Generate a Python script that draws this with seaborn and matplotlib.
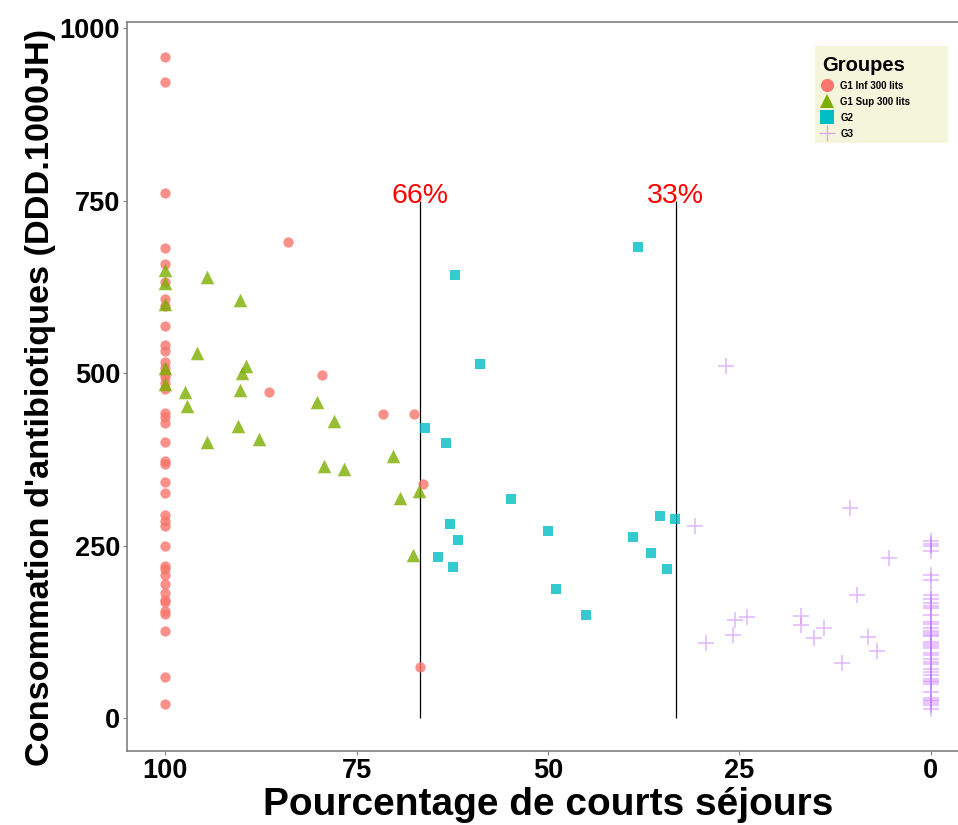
import matplotlib
matplotlib.use("Agg")
import matplotlib.pyplot as plt
import seaborn as sns
import pandas as pd
from matplotlib.lines import Line2D
from matplotlib.patches import Rectangle

# ---------------- data ----------------
g1inf_x = [100] * 41 + [84.0, 86.4, 79.5, 71.5, 67.5, 66.3, 66.7]
g1inf_y = [959, 922, 761, 681, 658, 632, 608, 597, 568, 541, 532, 517, 507, 499, 494,
           486, 477, 443, 436, 428, 401, 373, 368, 343, 327, 295, 286, 279, 250, 221,
           216, 207, 195, 182, 172, 168, 156, 151, 127, 60, 21,
           690, 473, 498, 441, 441, 340, 74]

g1sup_x = [100, 100, 100, 100, 100, 94.5, 90.3, 95.9, 89.5, 90.0, 97.4, 90.2, 97.1, 90.5,
           94.6, 80.2, 77.9, 87.8, 79.3, 76.6, 70.3, 69.4, 66.8, 67.6]
g1sup_y = [650, 631, 600, 508, 485, 640, 606, 529, 510, 500, 473, 476, 452, 423,
           401, 459, 431, 404, 365, 361, 380, 319, 330, 237]

g2_x = [38.2, 62.2, 58.9, 66.1, 63.3, 54.8, 62.8, 61.7, 64.4, 62.4, 50.0, 49.0, 45.0,
        35.4, 33.4, 38.9, 36.5, 34.5]
g2_y = [683, 642, 514, 421, 399, 318, 282, 259, 234, 219, 272, 188, 149, 293, 289,
        262, 240, 217]

g3_x = [26.7, 30.8, 10.6, 5.5, 9.6, 25.6, 24.0, 25.8, 29.4, 16.9, 17.0, 14.0, 15.2, 8.2,
        7.0, 11.6] + [0] * 42
g3_y = [511, 279, 305, 232, 179, 143, 147, 121, 109, 148, 135, 131, 116, 118, 97, 80,
        257, 253, 243, 208, 200, 179, 173, 167, 163, 160, 149, 139, 136, 131, 127, 124,
        121, 119, 111, 108, 105, 102, 95, 92, 86, 82, 78, 71, 67, 63, 57, 54, 52, 49,
        38, 30, 27, 25, 22, 19, 13, 250]

group_labels = ["G1 Inf 300 lits", "G1 Sup 300 lits", "G2", "G3"]
thresholds = [200 / 3, 100 / 3]
threshold_labels = ["66%", "33%"]
x_ticks = [100, 75, 50, 25, 0]
y_ticks = [0, 250, 500, 750, 1000]

df = pd.concat([
    pd.DataFrame({"x": g1inf_x, "y": g1inf_y, "g": group_labels[0]}),
    pd.DataFrame({"x": g1sup_x, "y": g1sup_y, "g": group_labels[1]}),
    pd.DataFrame({"x": g2_x, "y": g2_y, "g": group_labels[2]}),
    pd.DataFrame({"x": g3_x, "y": g3_y, "g": group_labels[3]}),
], ignore_index=True)

colors = ["#F8766D", "#7CAE00", "#00BFC4", "#C77CFF"]
markers = ["o", "^", "s", "+"]
sizes = [55, 95, 60, 120]

sns.set_theme(style="white")
plt.rcParams["font.family"] = ["Liberation Sans", "DejaVu Sans"]
plt.rcParams["text.color"] = "black"
plt.rcParams["axes.labelcolor"] = "black"
plt.rcParams["xtick.color"] = "black"
plt.rcParams["ytick.color"] = "black"

W, H = 958, 825
fig = plt.figure(figsize=(W / 100, H / 100), dpi=100)
ax = fig.add_axes([127 / W, 74 / H, 842 / W, 729 / H])

for lab, c, m, s in zip(group_labels, colors, markers, sizes):
    sub = df[df["g"] == lab]
    if m == "+":
        sns.scatterplot(data=sub, x="x", y="y", ax=ax, color=c, marker=m, s=s,
                        alpha=0.55, linewidth=1.1, legend=False, zorder=3)
    else:
        sns.scatterplot(data=sub, x="x", y="y", ax=ax, color=c, marker=m, s=s,
                        alpha=0.8, linewidth=0, legend=False, zorder=3)

for t, tl in zip(thresholds, threshold_labels):
    ax.vlines(t, 0, 750, color="black", linewidth=0.9, zorder=2)
    ax.text(t, 757, tl, color="red", fontsize=20.5, ha="center", va="center")

ax.set_xlim(105, -5)
ax.set_ylim(-47.4, 1009)
ax.set_xticks(x_ticks)
ax.set_yticks(y_ticks)
ax.set_xticklabels([str(v) for v in x_ticks])
ax.set_yticklabels([str(v) for v in y_ticks])
ax.tick_params(axis="both", labelsize=19.5, length=3, width=0.8, color="#808080",
               labelcolor="black", pad=2, direction="out", bottom=True, left=True)
for lbl in ax.get_xticklabels() + ax.get_yticklabels():
    lbl.set_fontweight("bold")

for sp in ax.spines.values():
    sp.set_color("#808080")
    sp.set_linewidth(1.2)

ax.set_xlabel("Pourcentage de courts séjours", fontsize=28, fontweight="bold",
              labelpad=2, color="black")
ax.set_ylabel("Consommation d'antibiotiques (DDD.1000JH)", fontsize=24.7,
              fontweight="bold", color="black")
ax.yaxis.set_label_coords(-0.084, 0.4856)

# legend background box
fig.patches.append(Rectangle((815 / W, 1 - 143 / H), 133 / W, 97 / H,
                             transform=fig.transFigure, facecolor="#F5F5DC",
                             edgecolor="none", zorder=4))

handles = []
for lab, c, m in zip(group_labels, colors, markers):
    if m == "+":
        h = Line2D([], [], linestyle="none", marker=m, color=c, alpha=0.6,
                   markersize=12, markeredgewidth=1.0, label=lab)
    else:
        h = Line2D([], [], linestyle="none", marker=m, color=c,
                   markersize=9.5, markeredgewidth=0, label=lab)
    handles.append(h)
leg = fig.legend(handles=handles, title="Groupes", loc="upper left",
                 bbox_to_anchor=(812 / W, 1 - 46 / H),
                 frameon=False, prop={"size": 7, "weight": "bold"},
                 handlelength=1.0, handletextpad=0.9, labelspacing=0.62,
                 borderpad=0.5)
leg.set_zorder(5)
leg.get_title().set_fontsize(14.5)
leg.get_title().set_fontweight("bold")
leg._legend_box.align = "left"

fig.savefig("out.png", dpi=100)
